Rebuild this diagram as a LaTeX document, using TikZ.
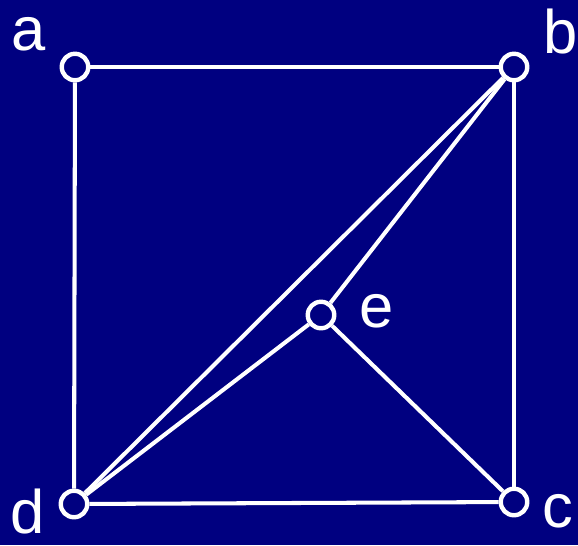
\documentclass[tikz,border=0pt]{standalone}
\usepackage{fontspec}
\setmainfont{Liberation Sans}
\usepackage{tikz}
\usetikzlibrary{positioning}
\definecolor{navy}{HTML}{000080}
\tikzset{
  vertex/.style={circle,draw=white,fill=navy,line width=2.5pt,
                 minimum size=0.53cm,inner sep=0pt},
  vlabel/.style={text=white,inner sep=0pt,font=\fontsize{35}{40}\selectfont},
  edge/.style={draw=white,line width=2.3pt}
}
\begin{document}
\begin{tikzpicture}[x=0.02cm,y=-0.02cm]
    \fill[navy] (0,0) rectangle (578,545);
    \path[use as bounding box] (0,0) rectangle (578,545);
    \node[vertex] (a) at (75,67) {};
    \node[vertex] (b) at (514,67) {};
    \node[vertex] (c) at (514,502) {};
    \node[vertex] (d) at (74,504) {};
    \node[vertex] (e) at (321,315) {};

    \node[vlabel] (la) at (29,34) {a};
    \node[vlabel] (lb) at (561,32) {b};
    \node[vlabel] (lc) at (558,511) {c};
    \node[vlabel] (ld) at (28,512) {d};
    \node[vlabel] (le) at (377,311) {e};

    \draw[edge] (a) -- (b);
    \draw[edge] (a) -- (d);
    \draw[edge] (b) -- (c);
    \draw[edge] (d) -- (c);
    \draw[edge] (b) -- (d);
    \draw[edge] (b) -- (e);
    \draw[edge] (d) -- (e);
    \draw[edge] (e) -- (c);
  \end{tikzpicture}
\end{document}
